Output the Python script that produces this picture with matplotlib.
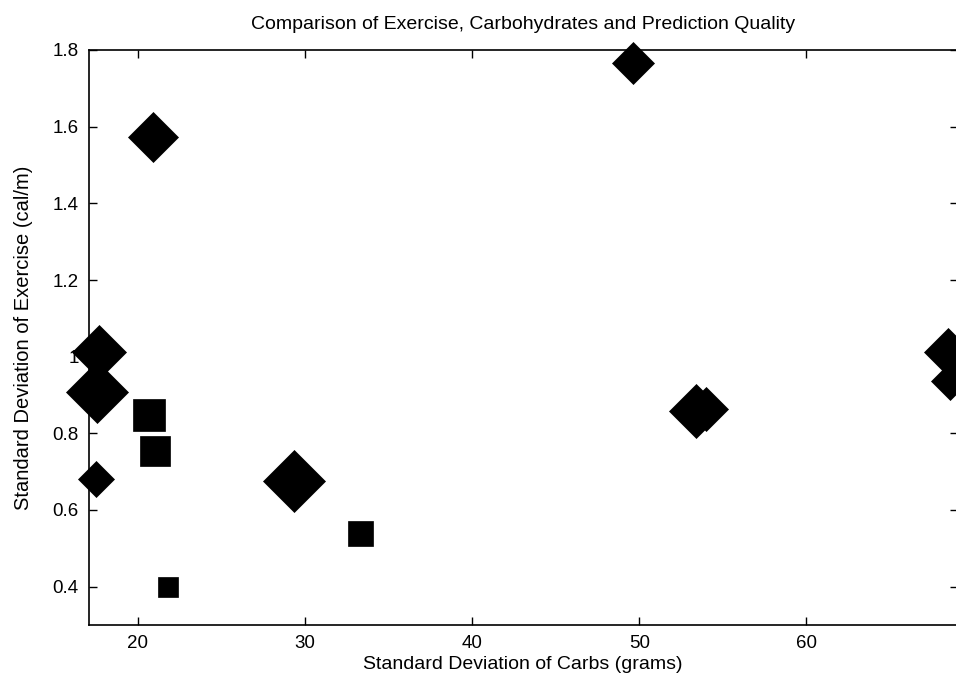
import matplotlib
matplotlib.use("Agg")
import matplotlib.pyplot as plt

plt.rcParams['font.family'] = ['Liberation Sans', 'DejaVu Sans']

# Diamond-marked records: carbs SD (g), exercise SD (cal/m), prediction quality (marker size, pt)
diamond_carbs = [49.65, 20.91, 17.71, 17.58, 17.53, 29.33, 53.41, 54.00, 68.47, 68.61]
diamond_exercise = [1.766, 1.574, 1.013, 0.909, 0.680, 0.676, 0.858, 0.863, 1.011, 0.936]
diamond_quality = [21.7, 25.5, 28.0, 31.6, 18.8, 31.6, 28.0, 22.9, 24.7, 19.3]

# Square-marked records
square_carbs = [20.68, 21.04, 21.82, 33.31]
square_exercise = [0.847, 0.754, 0.399, 0.539]
square_quality = [23.0, 20.9, 14.4, 18.0]

x_ticks = [20, 30, 40, 50, 60]
y_ticks = [0.4, 0.6, 0.8, 1.0, 1.2, 1.4, 1.6, 1.8]
y_tick_labels = ['0.4', '0.6', '0.8', '1', '1.2', '1.4', '1.6', '1.8']

fig = plt.figure(figsize=(9.56, 6.86), dpi=100)
W, H = 956, 686
ax = fig.add_axes([88.5 / W, 1 - 625 / H, (957.5 - 88.5) / W, (625 - 50) / H])

for x, y, q in zip(diamond_carbs, diamond_exercise, diamond_quality):
    ax.plot([x], [y], marker='D', markersize=q, color='black',
            markeredgewidth=0.5, linestyle='none', clip_on=False, zorder=3)
for x, y, q in zip(square_carbs, square_exercise, square_quality):
    ax.plot([x], [y], marker='s', markersize=q, color='black',
            markeredgewidth=0.5, linestyle='none', clip_on=False, zorder=3)

ax.set_xlim(17.07, 69.03)
ax.set_ylim(0.3, 1.8)
ax.set_xticks(x_ticks)
ax.set_yticks(y_ticks)
ax.set_yticklabels(y_tick_labels)
ax.tick_params(direction='in', length=6, width=1, top=True, right=True,
               labelsize=13.5, pad=7)
for s in ax.spines.values():
    s.set_linewidth(1.2)

ax.set_xlabel('Standard Deviation of Carbs (grams)', fontsize=14, labelpad=3)
ax.set_ylabel('Standard Deviation of Exercise (cal/m)', fontsize=14.5, labelpad=14)
ax.set_title('Comparison of Exercise, Carbohydrates and Prediction Quality',
             fontsize=14, pad=15)

fig.savefig('out.png', dpi=100)
